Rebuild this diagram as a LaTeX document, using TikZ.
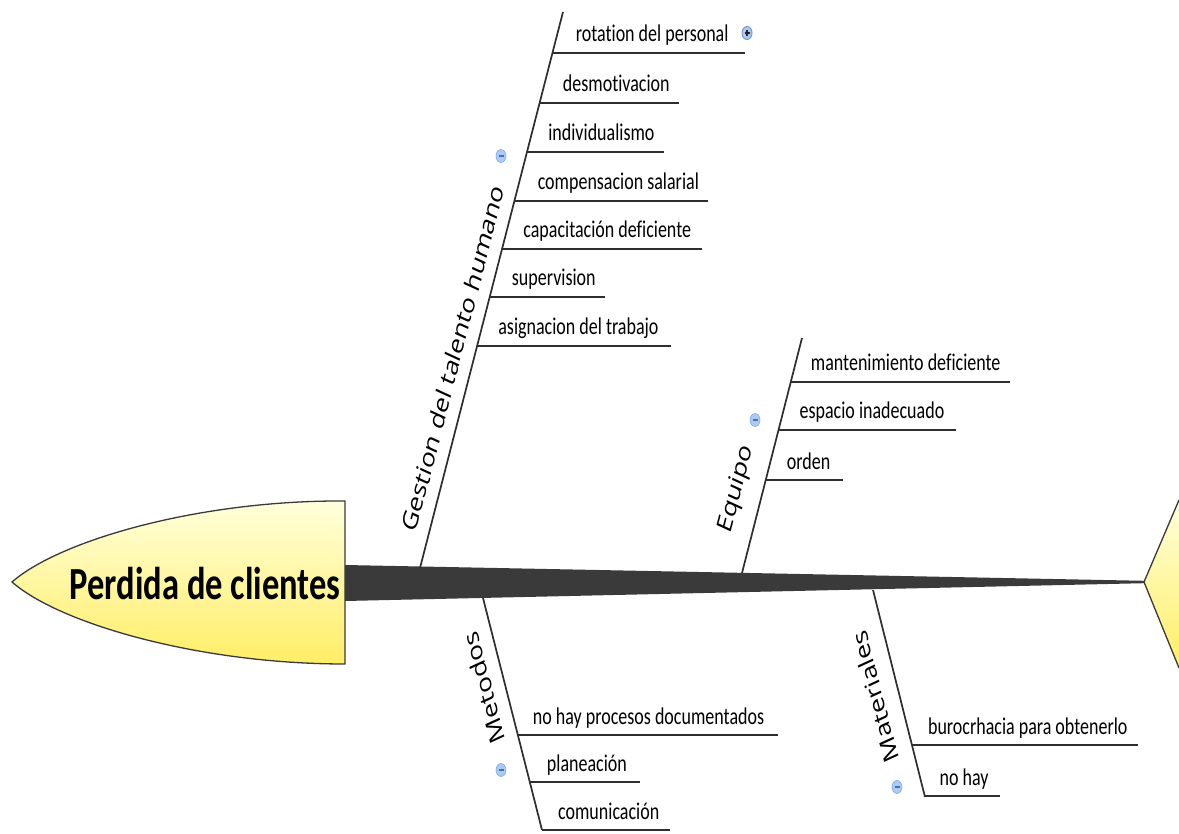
\documentclass[tikz,border=0pt]{standalone}
\usepackage{fontspec}
\setmainfont{Carlito}[RawFeature={-liga}]
\newfontfamily\bonefont{Open Sans}
\usetikzlibrary{calc,shapes.geometric}
\definecolor{spinegray}{HTML}{3A3A3A}
\definecolor{linegray}{HTML}{2E2E2E}
\definecolor{headtop}{HTML}{FFFFDC}
\definecolor{headbot}{HTML}{FFEE66}
\definecolor{iconblue}{HTML}{A9CBF4}
\definecolor{iconring}{HTML}{7FA9E6}
\definecolor{iconmark}{HTML}{4F6F9E}
\definecolor{plusblue}{HTML}{6E9BD8}
\tikzset{
  boneline/.style={draw=linegray, line width=1.7pt},
  subline/.style={draw=linegray, line width=2.4pt},
  sublabel/.style={anchor=base west, inner sep=0pt, xscale=0.75,
    font=\fontsize{24}{28}\selectfont, text=black},
  bonelabel/.style={inner sep=0pt, xscale=0.75,
    font=\bonefont\fontsize{28}{32}\selectfont, text=black},
  minusicon/.style={ellipse, inner sep=0pt, minimum width=10pt, minimum height=13pt,
    fill=iconblue, draw=iconring, line width=0.6pt},
  plusicon/.style={ellipse, inner sep=0pt, minimum width=10pt, minimum height=13pt,
    fill=plusblue!55!white, draw=plusblue, line width=1pt},
  iconstroke/.style={draw=iconmark, line width=1.3pt},
  plusstroke/.style={draw=black!85, line width=1.1pt}
}
\newcommand\sbr[6]{%
  \coordinate (#1s) at (#2,#3);
  \coordinate (#1e) at (#4,#3);
  \draw[subline] (#1s) -- (#1e);
  \node[sublabel] (#1) at ($(#1s)+(#5,-11)$) {#6};
}
\begin{document}
\begin{tikzpicture}[x=1pt,y=-1pt]
\useasboundingbox (0,0) rectangle (1179,834);
\fill[white] (0,0) rectangle (1179,834);

% ---- head ----
\coordinate (hTR) at (345,501);
\coordinate (hBR) at (345,664);
\coordinate (hTip) at (12,582);
\shade[top color=headtop, bottom color=headbot, draw=spinegray, line width=1.3pt]
  (hTR) .. controls (200,500) and (60,540) .. (hTip)
        .. controls (60,624) and (200,664) .. (hBR) -- cycle;
\node[anchor=base, inner sep=0pt, xscale=0.75, font=\bfseries\fontsize{46}{50}\selectfont]
  (title) at (205,599) {Perdida de clientes};

% ---- tail ----
\coordinate (tTip) at (1144,582);
\coordinate (tTop) at (1179,500);
\coordinate (tBot) at (1179,668);
\shade[top color=headtop, bottom color=headbot] (tTop) -- (tTip) -- (tBot) -- cycle;
\draw[draw=spinegray, line width=1.3pt] (tTop) -- (tTip) -- (tBot);

% ---- spine ----
\coordinate (sp1) at (345,565);
\coordinate (sp2) at (1144,580.8);
\coordinate (sp3) at (1144,583.2);
\coordinate (sp4) at (345,601);
\fill[spinegray] (sp1) -- (sp2) -- (sp3) -- (sp4) -- cycle;

% ---- Gestion del talento humano ----
\coordinate (gB) at (420,568);
\coordinate (gT) at (563,12);
\draw[boneline] (gB) -- (gT);
\node[bonelabel, rotate=71] (gL) at (453,358) {Gestion del talento humano};
\sbr{g1}{552.7}{53}{745}{23}{rotation del personal}
\sbr{g2}{539.8}{103}{679}{23}{desmotivacion}
\sbr{g3}{527.2}{152}{664}{21}{individualismo}
\sbr{g4}{514.6}{201}{708}{23}{compensacion salarial}
\sbr{g5}{502.2}{249}{702}{21}{capacitación deficiente}
\sbr{g6}{489.8}{297}{605}{22}{supervision}
\sbr{g7}{477.2}{346}{671}{21}{asignacion del trabajo}
\node[minusicon] (gI) at (501,156) {};
\draw[iconstroke] ([xshift=-2.5pt]gI.center) -- ([xshift=2.5pt]gI.center);
\node[plusicon] (pI) at (747,33) {};
\draw[plusstroke] ([xshift=-2.5pt]pI.center) -- ([xshift=2.5pt]pI.center);
\draw[plusstroke] ([yshift=-3pt]pI.center) -- ([yshift=3pt]pI.center);

% ---- Equipo ----
\coordinate (eB) at (742,573);
\coordinate (eT) at (802,338);
\draw[boneline] (eB) -- (eT);
\node[bonelabel, rotate=71] (eL) at (737,489) {Equipo};
\sbr{e1}{790.8}{382}{1010}{20}{mantenimiento deficiente}
\sbr{e2}{778.5}{430}{956}{21}{espacio inadecuado}
\sbr{e3}{765.7}{480}{843}{21}{orden}
\node[minusicon] (eI) at (755,420) {};
\draw[iconstroke] ([xshift=-2.5pt]eI.center) -- ([xshift=2.5pt]eI.center);

% ---- Metodos ----
\coordinate (mT) at (483,598);
\coordinate (mB) at (542,830);
\draw[boneline] (mT) -- (mB);
\node[bonelabel, rotate=109] (mL) at (484,688) {Metodos};
\sbr{m1}{517.8}{735}{778}{15}{no hay procesos documentados}
\sbr{m2}{529.8}{782}{640}{17}{planeación}
\sbr{m3}{542}{830}{670}{16}{comunicación}
\node[minusicon] (mI) at (501,770) {};
\draw[iconstroke] ([xshift=-2.5pt]mI.center) -- ([xshift=2.5pt]mI.center);

% ---- Materiales ----
\coordinate (aT) at (873,590);
\coordinate (aB) at (925,797);
\draw[boneline] (aT) -- (aB);
\node[bonelabel, rotate=109] (aL) at (875,697) {Materiales};
\sbr{t1}{911.9}{745}{1138}{16}{burocrhacia para obtenerlo}
\sbr{t2}{924.5}{796}{1000}{15}{no hay}
\node[minusicon] (aI) at (897,787) {};
\draw[iconstroke] ([xshift=-2.5pt]aI.center) -- ([xshift=2.5pt]aI.center);
\end{tikzpicture}
\end{document}
